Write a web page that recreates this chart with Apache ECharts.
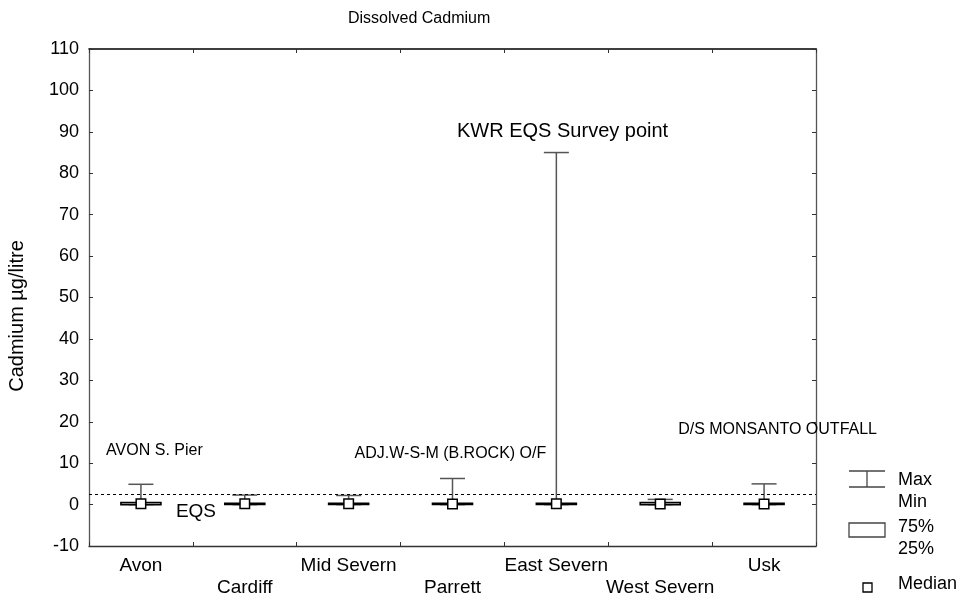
<!DOCTYPE html>
<html>
<head>
<meta charset="utf-8">
<script src="https://cdn.jsdelivr.net/npm/echarts@6/dist/echarts.min.js"></script>
<style>
  html, body { margin: 0; padding: 0; background: #fff; }
  #chart { width: 965px; height: 601px; }
</style>
</head>
<body>
<div id="chart"></div>
<script>
// Dissolved cadmium summary per area (µg/litre)
const categories = ['Avon', 'Cardiff', 'Mid Severn', 'Parrett', 'East Severn', 'West Severn', 'Usk'];
const minVals    = [0, 0, 0, 0, 0, 0, 0];
const q1Vals     = [0.0, 0.05, 0.05, 0.05, 0.05, 0.0, 0.05];
const medianVals = [0.2, 0.2, 0.2, 0.15, 0.2, 0.15, 0.15];
const q3Vals     = [0.5, 0.3, 0.3, 0.3, 0.3, 0.5, 0.3];
const maxVals    = [4.9, 2.3, 2.2, 6.3, 85, 1.25, 5.0];
const eqsLimit = 2.5;

const yTicks = { min: -10, max: 110, step: 10 };

// Site notes placed along the areas (x in category units, y in µg/litre)
const noteText = ['AVON S. Pier', 'ADJ.W-S-M (B.ROCK) O/F', 'KWR EQS Survey point', 'D/S MONSANTO OUTFALL', 'EQS'];
const noteX    = [0.63, 3.48, 4.56, 6.63, 1.03];
const noteY    = [13, 12.2, 90.2, 18, -1.8];
const noteSize = [16, 16, 20, 16, 19];

const FONT = "'Liberation Sans', Arial, sans-serif";

const boxData = categories.map((c, i) => [i, minVals[i], q1Vals[i], medianVals[i], q3Vals[i], maxVals[i]]);
const noteData = noteText.map((t, i) => [noteX[i], noteY[i]]);

function renderBox(params, api) {
  const i = api.value(0);
  const pMin = api.coord([i, api.value(1)]);
  const pQ1 = api.coord([i, api.value(2)]);
  const pMed = api.coord([i, api.value(3)]);
  const pQ3 = api.coord([i, api.value(4)]);
  const pMax = api.coord([i, api.value(5)]);
  const x = pMed[0];
  const capHalf = 12.5, boxHalf = 20, sq = 4.75;
  const whisker = { stroke: '#555', lineWidth: 1.5 };
  return {
    type: 'group',
    children: [
      { type: 'line', shape: { x1: x, y1: pMin[1], x2: x, y2: pMax[1] }, style: whisker },
      { type: 'line', shape: { x1: x - capHalf, y1: pMax[1], x2: x + capHalf, y2: pMax[1] }, style: whisker },
      { type: 'line', shape: { x1: x - capHalf, y1: pMin[1], x2: x + capHalf, y2: pMin[1] }, style: whisker },
      { type: 'rect', shape: { x: x - boxHalf, y: pQ3[1], width: boxHalf * 2, height: Math.max(pQ1[1] - pQ3[1], 0.5) },
        style: { fill: '#fff', stroke: '#000', lineWidth: 1.6 } },
      { type: 'rect', shape: { x: x - sq, y: pMed[1] - sq, width: sq * 2, height: sq * 2 },
        style: { fill: '#fff', stroke: '#000', lineWidth: 1.5 } }
    ]
  };
}

function renderNote(params, api) {
  const p = api.coord([api.value(0), api.value(1)]);
  const k = params.dataIndex;
  return {
    type: 'text',
    x: p[0], y: p[1],
    style: {
      text: noteText[k],
      fill: '#000',
      font: noteSize[k] + 'px ' + FONT,
      align: 'center',
      verticalAlign: 'middle'
    }
  };
}

const axisColor = '#333';

const legendX = 849, legendTextX = 898;
const legendGraphics = [
  { type: 'line', shape: { x1: legendX, y1: 471, x2: legendX + 36, y2: 471 }, style: { stroke: '#444', lineWidth: 1.3 } },
  { type: 'line', shape: { x1: legendX, y1: 487, x2: legendX + 36, y2: 487 }, style: { stroke: '#444', lineWidth: 1.3 } },
  { type: 'line', shape: { x1: legendX + 18, y1: 471, x2: legendX + 18, y2: 487 }, style: { stroke: '#444', lineWidth: 1.3 } },
  { type: 'rect', shape: { x: legendX, y: 523, width: 36, height: 14 }, style: { fill: '#fff', stroke: '#444', lineWidth: 1.3 } },
  { type: 'rect', shape: { x: 863, y: 583, width: 9, height: 9 }, style: { fill: '#fff', stroke: '#000', lineWidth: 1.3 } },
  { type: 'text', x: legendTextX, y: 480, style: { text: 'Max', font: '18px ' + FONT, fill: '#000', verticalAlign: 'middle' } },
  { type: 'text', x: legendTextX, y: 502, style: { text: 'Min', font: '18px ' + FONT, fill: '#000', verticalAlign: 'middle' } },
  { type: 'text', x: legendTextX, y: 527, style: { text: '75%', font: '18px ' + FONT, fill: '#000', verticalAlign: 'middle' } },
  { type: 'text', x: legendTextX, y: 549, style: { text: '25%', font: '18px ' + FONT, fill: '#000', verticalAlign: 'middle' } },
  { type: 'text', x: legendTextX, y: 584, style: { text: 'Median', font: '18px ' + FONT, fill: '#000', verticalAlign: 'middle' } },
  { type: 'text', x: 17, y: 316, rotation: Math.PI / 2,
    style: { text: 'Cadmium µg/litre', font: '20px ' + FONT, fill: '#000', align: 'center', verticalAlign: 'middle' } }
];

const chart = echarts.init(document.getElementById('chart'), null, { renderer: 'canvas' });
chart.setOption({
  animation: false,
  backgroundColor: '#fff',
  textStyle: { fontFamily: FONT },
  title: {
    text: 'Dissolved Cadmium',
    left: 343, top: 6,
    textStyle: { fontSize: 16, fontWeight: 'normal', color: '#000', fontFamily: FONT }
  },
  grid: { left: 89, right: 149, top: 49, bottom: 55, containLabel: false },
  xAxis: [
    {
      type: 'category', data: categories, position: 'bottom', boundaryGap: true,
      axisLine: { show: true, onZero: false, lineStyle: { color: axisColor, width: 1.3 } },
      axisTick: { show: true, inside: true, length: 4, alignWithLabel: false, lineStyle: { color: axisColor } },
      axisLabel: {
        interval: 0, margin: 9, color: '#000', fontSize: 19, lineHeight: 22, fontFamily: FONT,
        formatter: (v, i) => (i % 2 ? '\n' + v : v)
      },
      splitLine: { show: false }
    },
    {
      type: 'category', data: categories, position: 'top', boundaryGap: true,
      axisLine: { show: true, onZero: false, lineStyle: { color: '#000', width: 1.5 } },
      axisTick: { show: true, inside: true, length: 4, lineStyle: { color: axisColor } },
      axisLabel: { show: false },
      splitLine: { show: false }
    },
    { type: 'value', min: 0, max: 7, show: false }
  ],
  yAxis: [
    {
      type: 'value', min: yTicks.min, max: yTicks.max, interval: yTicks.step, position: 'left',
      axisLine: { show: true, onZero: false, lineStyle: { color: '#555', width: 1.3 } },
      axisTick: { show: true, inside: true, length: 4, lineStyle: { color: axisColor } },
      axisLabel: { color: '#000', fontSize: 18, margin: 10, fontFamily: FONT },
      splitLine: { show: false }
    },
    {
      type: 'value', min: yTicks.min, max: yTicks.max, interval: yTicks.step, position: 'right',
      axisLine: { show: true, onZero: false, lineStyle: { color: '#555', width: 1.3 } },
      axisTick: { show: true, inside: true, length: 4, lineStyle: { color: axisColor } },
      axisLabel: { show: false },
      splitLine: { show: false }
    }
  ],
  series: [
    {
      type: 'custom', name: 'Cadmium', xAxisIndex: 0, yAxisIndex: 0,
      renderItem: renderBox,
      encode: { x: 0, y: [1, 2, 3, 4, 5] },
      data: boxData,
      z: 3,
      markLine: {
        silent: true, symbol: 'none',
        lineStyle: { type: [3, 3], color: '#000', width: 1 },
        label: { show: false },
        data: [{ yAxis: eqsLimit }]
      }
    },
    {
      type: 'custom', name: 'Notes', xAxisIndex: 2, yAxisIndex: 0,
      renderItem: renderNote,
      encode: { x: 0, y: 1 },
      data: noteData,
      z: 4
    }
  ],
  graphic: legendGraphics
});
</script>
</body>
</html>
